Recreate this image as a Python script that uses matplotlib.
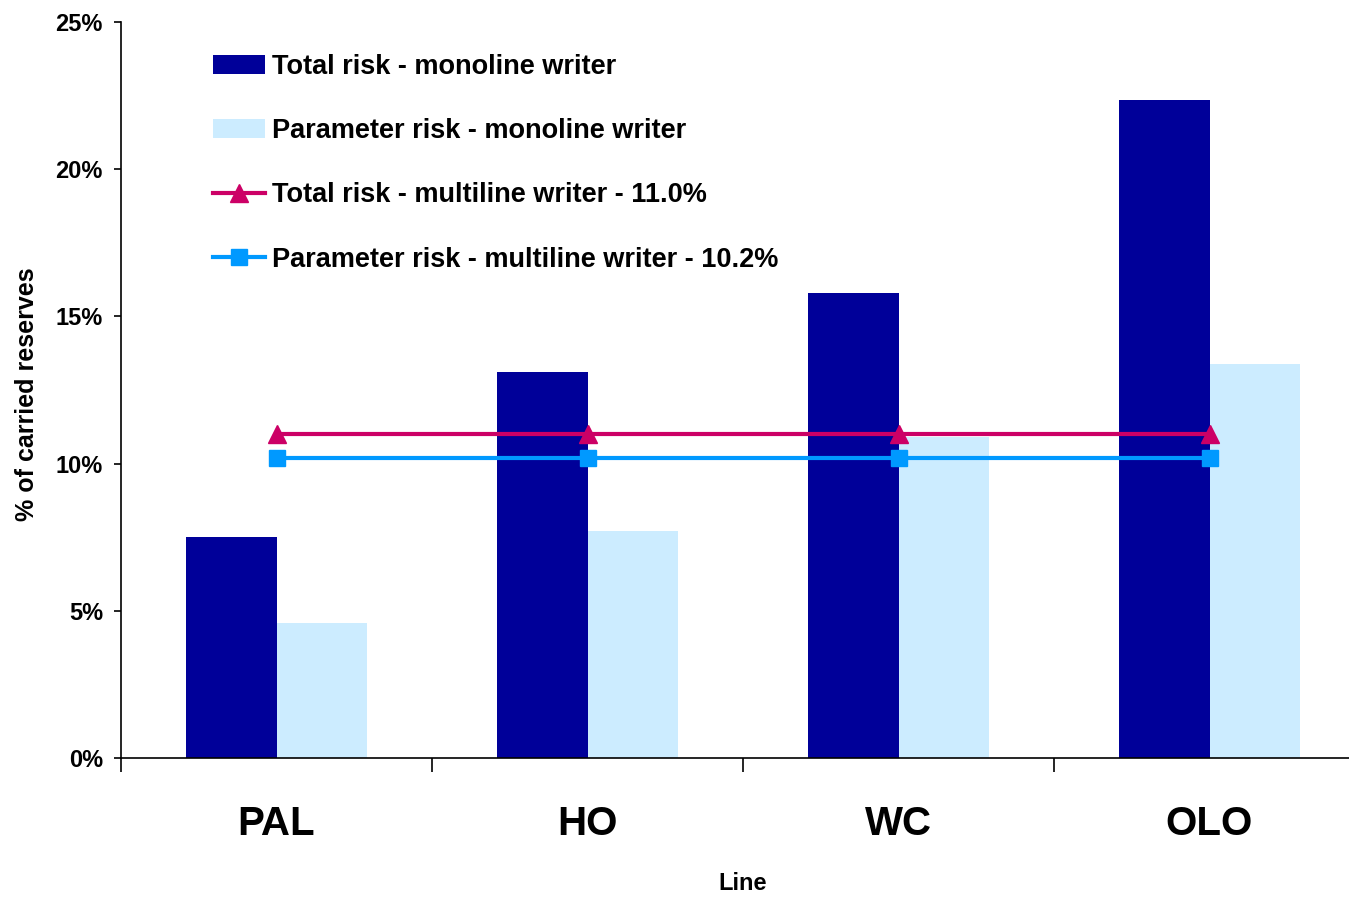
import matplotlib.pyplot as plt
import numpy as np
from matplotlib.ticker import FuncFormatter

plt.rcParams["font.family"] = ["Liberation Sans", "DejaVu Sans"]
plt.rcParams["font.weight"] = "bold"

lines = ["PAL", "HO", "WC", "OLO"]
total_mono = [7.5, 13.1, 15.8, 22.35]
param_mono = [4.6, 7.7, 10.9, 13.4]
total_multi = [11.0, 11.0, 11.0, 11.0]
param_multi = [10.2, 10.2, 10.2, 10.2]

DARK = "#000099"
LIGHT = "#CCECFF"
MAGENTA = "#CC0066"
SKY = "#0099FF"

W, H = 1349, 897
fig = plt.figure(figsize=(W / 100, H / 100), dpi=100)
# axes runs a little past the right edge of the canvas
ax = fig.add_axes([121 / W, 139 / H, 1244 / W, 736 / H])

x = np.arange(len(lines))
bw = 0.29
ax.bar(x - bw / 2, total_mono, bw, color=DARK, zorder=1,
       label="Total risk - monoline writer")
ax.bar(x + bw / 2, param_mono, bw, color=LIGHT, zorder=1,
       label="Parameter risk - monoline writer")
ax.plot(x, total_multi, color=MAGENTA, lw=3, marker="^", ms=13, zorder=3,
        label="Total risk - multiline writer - 11.0%")
ax.plot(x, param_multi, color=SKY, lw=3, marker="s", ms=11, zorder=3,
        label="Parameter risk - multiline writer - 10.2%")

ax.set_xlim(-0.5, 3.5)
ax.set_ylim(0, 25)
ax.set_yticks(range(0, 26, 5))
ax.yaxis.set_major_formatter(FuncFormatter(lambda v, _: f"{v:.0f}%"))
ax.tick_params(axis="y", direction="out", length=5, width=1.2, pad=8,
               labelsize=17)

# category boundaries get the tick marks, names sit on minor ticks
ax.set_xticks([-0.5, 0.5, 1.5, 2.5, 3.5])
ax.set_xticklabels([])
ax.tick_params(axis="x", which="major", direction="out", length=10, width=1.2)
ax.set_xticks(x, minor=True)
ax.set_xticklabels(lines, minor=True, fontsize=29, fontweight="bold")
ax.tick_params(axis="x", which="minor", length=0, pad=34)

for side in ("top", "right"):
    ax.spines[side].set_visible(False)
for side in ("left", "bottom"):
    ax.spines[side].set_linewidth(1.2)

ax.set_xlabel("Line", fontsize=17, fontweight="bold")
ax.xaxis.set_label_coords(0.5, -0.155)
fig.text(27 / W, 1 - 394 / H, "% of carried reserves", rotation=90,
         ha="center", va="center", fontsize=18, fontweight="bold")

handles, labels = ax.get_legend_handles_labels()
order = [2, 3, 0, 1]
ax.legend([handles[i] for i in order], [labels[i] for i in order],
          loc="upper left", bbox_to_anchor=(213 / W, 1 - 54 / H),
          bbox_transform=fig.transFigure, frameon=False, fontsize=19.5,
          handlelength=1.93, handletextpad=0.26, labelspacing=1.41,
          borderpad=0, borderaxespad=0)

fig.savefig("out.png", dpi=100)
